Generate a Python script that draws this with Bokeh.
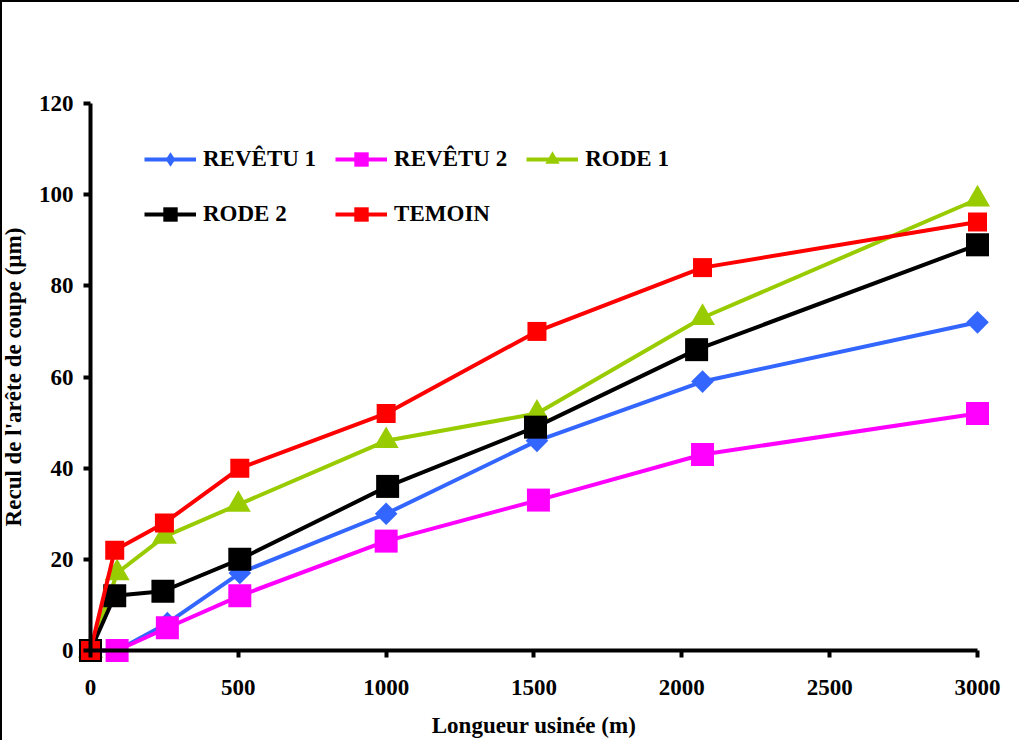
from bokeh.plotting import figure
from bokeh.models import Legend, LegendItem, FixedTicker
from bokeh.embed import file_html
from bokeh.resources import INLINE

# ---- data ----
rev1_x = [0, 90, 260, 505, 1000, 1510, 2070, 3000]
rev1_y = [0, 0, 6, 17, 30, 46, 59, 72]
rev2_x = [0, 90, 260, 505, 1000, 1515, 2070, 3000]
rev2_y = [0, 0, 5, 12, 24, 33, 43, 52]
rode1_x = [0, 90, 250, 500, 1000, 1510, 2070, 3000]
rode1_y = [0, 17, 25, 32, 46, 52, 73, 99]
rode2_x = [0, 82, 245, 505, 1005, 1505, 2050, 3000]
rode2_y = [0, 12, 13, 20, 36, 49, 66, 89]
tem_x = [0, 82, 250, 505, 1000, 1510, 2070, 3000]
tem_y = [0, 22, 28, 40, 52, 70, 84, 94]

x_ticks = [0, 500, 1000, 1500, 2000, 2500, 3000]
y_ticks = [0, 20, 40, 60, 80, 100, 120]

FONT = "'Liberation Serif', 'Times New Roman', Times, serif"

p = figure(width=1019, height=740, x_range=(-297.6, 3148.8), y_range=(-20.18, 142.16),
           output_backend="svg", toolbar_location=None,
           min_border_left=0, min_border_right=0, min_border_top=0, min_border_bottom=0)
p.styles = {"border-top": "2px solid black", "border-left": "2px solid black"}
p.outline_line_color = None
p.xgrid.visible = False
p.ygrid.visible = False

for ax in (p.xaxis[0], p.yaxis[0]):
    ax.axis_line_width = 4
    ax.axis_line_color = "black"
    ax.major_tick_line_width = 4
    ax.major_tick_in = 0
    ax.major_tick_out = 7
    ax.minor_tick_line_color = None
    ax.major_label_text_font = FONT
    ax.major_label_text_font_style = "bold"
    ax.major_label_text_font_size = "23px"
    ax.major_label_text_color = "black"
    ax.axis_label_text_font = FONT
    ax.axis_label_text_font_style = "bold"
    ax.axis_label_text_font_size = "23px"
    ax.axis_label_text_color = "black"

p.xaxis[0].ticker = FixedTicker(ticks=x_ticks)
p.yaxis[0].ticker = FixedTicker(ticks=y_ticks)
p.xaxis[0].bounds = (0, 3000)
p.yaxis[0].bounds = (0, 120)
p.xaxis[0].fixed_location = 0
p.yaxis[0].fixed_location = 0
p.xaxis[0].axis_label = "Longueur usinée (m)"
p.yaxis[0].axis_label = "Recul de l'arête de coupe (µm)"
p.xaxis[0].major_label_standoff = 22
p.yaxis[0].major_label_standoff = 10
p.xaxis[0].axis_label_standoff = 15
p.yaxis[0].axis_label_standoff = 10

series = [
    ("REVÊTU 1", rev1_x, rev1_y, "#3366FF", "square", 16, 0.785398, "diamond"),
    ("REVÊTU 2", rev2_x, rev2_y, "#FF00FF", "square", 23, 0, None),
    ("RODE 1", rode1_x, rode1_y, "#99CC00", "triangle", 25, 0, None),
    ("RODE 2", rode2_x, rode2_y, "#000000", "square", 23, 0, None),
    ("TEMOIN", tem_x, tem_y, "#FF0000", "square", 19, 0, None),
]

items = []
for name, xs, ys, col, mk, sz, ang, lmk in series:
    ln = p.line(xs, ys, line_color=col, line_width=4)
    if lmk is not None:
        # legend glyph, fully hidden under the rotated squares
        leg = p.scatter(xs, ys, marker=lmk, size=20, fill_color=col, line_color=None)
    sc = p.scatter(xs, ys, marker=mk, size=sz, angle=ang, fill_color=col, line_color=None)
    if lmk is None:
        leg = sc
    items.append(LegendItem(label=name, renderers=[ln, leg]))

legend = Legend(items=items, location=(142, 510), orientation="horizontal", ncols=3,
                label_text_font=FONT, label_text_font_style="bold", label_text_font_size="23px",
                label_text_color="black", glyph_width=52, glyph_height=36, label_standoff=7,
                spacing=19, padding=0, margin=0, border_line_color=None, background_fill_alpha=0)
p.add_layout(legend, "center")

open("out.html", "w").write(file_html(p, INLINE))
